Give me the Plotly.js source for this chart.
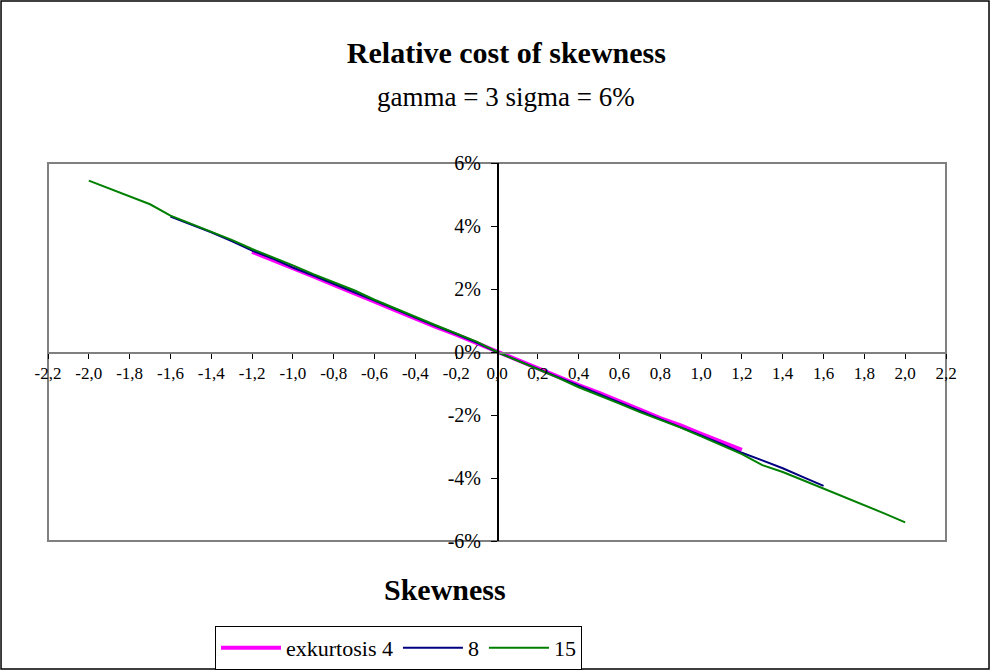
<!DOCTYPE html>
<html>
<head>
<meta charset="utf-8">
<script src="https://cdn.plot.ly/plotly-3.0.1.min.js"></script>
<style>
html,body{margin:0;padding:0;background:#fff;}
#chart{width:991px;height:671px;}
</style>
</head>
<body>
<div id="chart"></div>
<script>
// ---- data ----
const x4 = [-1.2,-1.1,-1.0,-0.9,-0.8,-0.7,-0.6,-0.5,-0.4,-0.3,-0.2,-0.1,0.0,0.1,0.2,0.3,0.4,0.5,0.6,0.7,0.8,0.9,1.0,1.1,1.2];
const y4 = [0.0318,0.0293,0.0265,0.0240,0.0213,0.0188,0.0160,0.0133,0.0105,0.0080,0.0055,0.0028,0.0000,-0.0026,-0.0053,-0.0078,-0.0105,-0.0130,-0.0158,-0.0183,-0.0210,-0.0233,-0.0260,-0.0285,-0.0311];

const x8 = [-1.6,-1.5,-1.4,-1.3,-1.2,-1.1,-1.0,-0.9,-0.8,-0.7,-0.6,-0.5,-0.4,-0.3,-0.2,-0.1,0.0,0.1,0.2,0.3,0.4,0.5,0.6,0.7,0.8,0.9,1.0,1.1,1.2,1.3,1.4,1.5,1.6];
const y8 = [0.0430,0.0405,0.0380,0.0352,0.0322,0.0297,0.0268,0.0243,0.0217,0.0191,0.0163,0.0136,0.0108,0.0082,0.0057,0.0030,0.0000,-0.0027,-0.0054,-0.0080,-0.0108,-0.0134,-0.0161,-0.0187,-0.0213,-0.0238,-0.0265,-0.0292,-0.0320,-0.0344,-0.0369,-0.0397,-0.0425];

const x15 = [-2.0,-1.9,-1.8,-1.7,-1.6,-1.5,-1.4,-1.3,-1.2,-1.1,-1.0,-0.9,-0.8,-0.7,-0.6,-0.5,-0.4,-0.3,-0.2,-0.1,0.0,0.1,0.2,0.3,0.4,0.5,0.6,0.7,0.8,0.9,1.0,1.1,1.2,1.3,1.4,1.5,1.6,1.7,1.8,1.9,2.0];
const y15 = [0.0544,0.0519,0.0495,0.0469,0.0433,0.0408,0.0383,0.0356,0.0327,0.0302,0.0275,0.0247,0.0222,0.0196,0.0166,0.0140,0.0112,0.0085,0.0060,0.0033,0.0000,-0.0027,-0.0055,-0.0082,-0.0112,-0.0137,-0.0164,-0.0191,-0.0216,-0.0240,-0.0268,-0.0295,-0.0324,-0.0359,-0.0381,-0.0407,-0.0433,-0.0459,-0.0485,-0.0513,-0.0541];

const seriesNames = ['exkurtosis 4','8','15'];
const xTickVals = [-2.2,-2.0,-1.8,-1.6,-1.4,-1.2,-1.0,-0.8,-0.6,-0.4,-0.2,0.0,0.2,0.4,0.6,0.8,1.0,1.2,1.4,1.6,1.8,2.0,2.2];
const xTickText = ['-2,2','-2,0','-1,8','-1,6','-1,4','-1,2','-1,0','-0,8','-0,6','-0,4','-0,2','0,0','0,2','0,4','0,6','0,8','1,0','1,2','1,4','1,6','1,8','2,0','2,2'];
const yTickVals = [-0.06,-0.04,-0.02,0,0.02,0.04,0.06];
const yTickText = ['-6%','-4%','-2%','0%','2%','4%','6%'];

const serif = 'Liberation Serif';

const traces = [
  {x:x4, y:y4, name:seriesNames[0], mode:'lines', line:{color:'#FF00FF', width:4}},
  {x:x8, y:y8, name:seriesNames[1], mode:'lines', line:{color:'#000080', width:2}},
  {x:x15, y:y15, name:seriesNames[2], mode:'lines', line:{color:'#008000', width:2}}
];

const layout = {
  width:991, height:671,
  margin:{l:48, r:45, t:163, b:130, pad:0, autoexpand:false},
  paper_bgcolor:'#fff', plot_bgcolor:'#fff',
  font:{family:serif, color:'#000', size:16},
  showlegend:true,
  title:{text:'<b>Relative cost of skewness</b>', font:{family:serif, size:30, color:'#000'},
         x:0.511, xanchor:'center', xref:'container', y:0.922, yanchor:'middle', yref:'container'},
  xaxis:{range:[-2.2,2.2], tickmode:'array', tickvals:xTickVals, ticktext:xTickText,
         anchor:'free', position:0.5, showline:true, linecolor:'#808080', linewidth:1.5,
         ticks:'outside', ticklen:5, tickcolor:'#000', tickwidth:1,
         showgrid:false, zeroline:false, tickfont:{family:serif, size:17}, fixedrange:true},
  yaxis:{range:[-0.06,0.06], tickmode:'array', tickvals:yTickVals, ticktext:yTickText,
         anchor:'free', position:0.5, side:'left', showline:true, linecolor:'#000', linewidth:1.5,
         ticks:'outside', ticklen:6, tickcolor:'#000', tickwidth:1, ticklabelstandoff:6,
         showgrid:false, zeroline:false, tickfont:{family:serif, size:20}, fixedrange:true},
  legend:{orientation:'h', xref:'container', yref:'container', x:215/991, xanchor:'left', y:(671-626)/671, yanchor:'top',
          bordercolor:'#000', borderwidth:1, bgcolor:'#fff', itemwidth:60,
          font:{family:serif, size:22, color:'#000'}, traceorder:'normal'},
  shapes:[
    {type:'rect', xref:'paper', yref:'paper', x0:0, x1:1, y0:0, y1:1, line:{color:'#808080', width:2}, layer:'below'},
    {type:'rect', xref:'paper', yref:'paper', x0:-0.0523, x1:1.0479, y0:-0.3386, y1:1.4286, line:{color:'#000', width:1.5}}
  ],
  annotations:[
    {text:'gamma = 3 sigma = 6%', xref:'paper', yref:'paper', x:(506-48)/898, y:(541-97)/378,
     showarrow:false, xanchor:'center', yanchor:'middle', font:{family:serif, size:27, color:'#000'}},
    {text:'<b>Skewness</b>', xref:'paper', yref:'paper', x:(445-48)/898, y:(541-589)/378,
     showarrow:false, xanchor:'center', yanchor:'middle', font:{family:serif, size:30, color:'#000'}}
  ]
};

Plotly.newPlot('chart', traces, layout, {staticPlot:true, displayModeBar:false});
</script>
</body>
</html>
